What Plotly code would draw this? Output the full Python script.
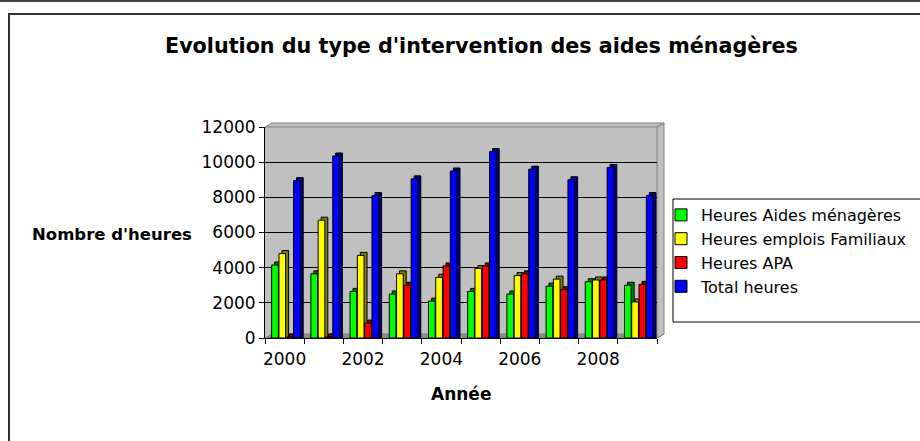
import plotly.graph_objects as go

years = [2000, 2001, 2002, 2003, 2004, 2005, 2006, 2007, 2008, 2009]
aides_menageres = [4150, 3650, 2650, 2500, 2100, 2650, 2500, 2950, 3200, 3000]
emplois_familiaux = [4800, 6700, 4700, 3650, 3450, 3950, 3550, 3350, 3300, 2050]
apa = [60, 60, 850, 3000, 4100, 4100, 3650, 2750, 3300, 3050]
total = [8950, 10350, 8100, 9050, 9500, 10600, 9600, 9000, 9700, 8100]

series_names = ["Heures Aides ménagères", "Heures emplois Familiaux", "Heures APA", "Total heures"]
series_values = [aides_menageres, emplois_familiaux, apa, total]
series_colors = ["#00FF00", "#FFFF00", "#FF0000", "#0000FF"]
side_colors = ["#008000", "#808000", "#800000", "#000080"]

x_tickvals = [2000, 2002, 2004, 2006, 2008]
y_tickvals = [0, 2000, 4000, 6000, 8000, 10000, 12000]

W, H = 920, 441
FONT = "DejaVu Sans, Liberation Sans, Arial, sans-serif"

# plot-area geometry (pixels)
PX_L, PX_R, PX_B, PX_T = 265, 657, 338, 127
x0, x1 = PX_L / W, PX_R / W
y0, y1 = 1 - PX_B / H, 1 - PX_T / H
unit_px = (PX_R - PX_L) / 10.0          # pixels per category
val_per_px = 12000 / (PX_B - PX_T)      # data units per pixel
depth_dx = 3 / unit_px                  # 3D depth in x data units
depth_dy = 3 * val_per_px               # 3D depth in y data units
bar_w = 0.17
bar_step = 0.186
bar_start = -0.33

fig = go.Figure()
# depth (side/top faces) drawn first
for i, (vals, col) in enumerate(zip(series_values, side_colors)):
    fig.add_trace(go.Bar(x=years, y=[v + depth_dy for v in vals], base=0,
                         offset=bar_start + i * bar_step + depth_dx, width=bar_w,
                         marker=dict(color=col, line=dict(color="black", width=1)),
                         showlegend=False, hoverinfo="skip"))
for i, (name, vals, col) in enumerate(zip(series_names, series_values, series_colors)):
    fig.add_trace(go.Bar(x=years, y=vals, name=name,
                         offset=bar_start + i * bar_step, width=bar_w,
                         marker=dict(color=col, line=dict(color="black", width=1))))


def px(xp, yp):
    return f"{xp / W} {1 - yp / H}"


fig.update_layout(
    width=W, height=H,
    margin=dict(l=0, r=0, t=0, b=0, autoexpand=False),
    paper_bgcolor="white",
    plot_bgcolor="#C0C0C0",
    barmode="overlay",
    font=dict(family=FONT, size=17, color="black"),
    showlegend=True,
    legend=dict(x=661 / W, y=1 - 198 / H, xanchor="left", yanchor="top",
                bgcolor="rgba(0,0,0,0)", borderwidth=0,
                font=dict(family=FONT, size=16), tracegroupgap=0),
    xaxis=dict(domain=[x0, x1], range=[1999.5, 2009.5], tickvals=x_tickvals,
               ticks="outside", ticklen=6, tickcolor="rgba(0,0,0,0)",
               showline=True, linecolor="black", linewidth=1, showgrid=False, zeroline=False,
               minor=dict(tick0=1999.5, dtick=1, ticks="outside", ticklen=5, tickcolor="black", showgrid=False),
               tickfont=dict(size=17), automargin=False),
    yaxis=dict(domain=[y0, y1], range=[0, 12000], tickvals=y_tickvals, tickformat="d",
               ticks="outside", ticklen=5, tickcolor="black",
               showline=True, linecolor="black", linewidth=1,
               showgrid=True, gridcolor="black", gridwidth=1, zeroline=False,
               tickfont=dict(size=17), automargin=False),
    annotations=[
        dict(text="<b>Evolution du type d'intervention des aides ménagères</b>", x=481 / W, y=1 - 46 / H,
             xref="paper", yref="paper", xanchor="center", yanchor="middle", showarrow=False, font=dict(size=20.7)),
        dict(text="<b>Nombre d'heures</b>", x=112 / W, y=1 - 235 / H,
             xref="paper", yref="paper", xanchor="center", yanchor="middle", showarrow=False, font=dict(size=16.5)),
        dict(text="<b>Année</b>", x=461 / W, y=1 - 394 / H,
             xref="paper", yref="paper", xanchor="center", yanchor="middle", showarrow=False, font=dict(size=17)),
    ],
    shapes=[
        # outer frames
        dict(type="line", xref="paper", yref="paper", x0=0, x1=1, y0=1 - 1 / H, y1=1 - 1 / H,
             line=dict(color="#404040", width=2)),
        dict(type="path", xref="paper", yref="paper",
             path=f"M {px(9, 445)} L {px(9, 14)} L {px(925, 14)}",
             line=dict(color="#303030", width=2)),
        # 3D floor and walls
        dict(type="path", xref="paper", yref="paper", layer="below",
             path=f"M {px(265, 338)} L {px(657, 338)} L {px(664, 334)} L {px(272, 334)} Z",
             fillcolor="#8C8C8C", line=dict(color="#808080", width=1)),
        dict(type="path", xref="paper", yref="paper", layer="below",
             path=f"M {px(265, 127)} L {px(272, 123)} L {px(664, 123)} L {px(657, 127)} Z",
             fillcolor="#C0C0C0", line=dict(color="#808080", width=1)),
        dict(type="path", xref="paper", yref="paper", layer="below",
             path=f"M {px(657, 127)} L {px(664, 123)} L {px(664, 334)} L {px(657, 338)} Z",
             fillcolor="#C0C0C0", line=dict(color="#808080", width=1)),
        # legend box
        dict(type="rect", xref="paper", yref="paper", x0=673 / W, x1=930 / W, y0=1 - 322 / H, y1=1 - 199 / H,
             fillcolor="white", line=dict(color="black", width=1), layer="below"),
    ],
)

fig.write_html("out.html", config={"displayModeBar": False},
               post_script="document.body.style.margin='0px';")
